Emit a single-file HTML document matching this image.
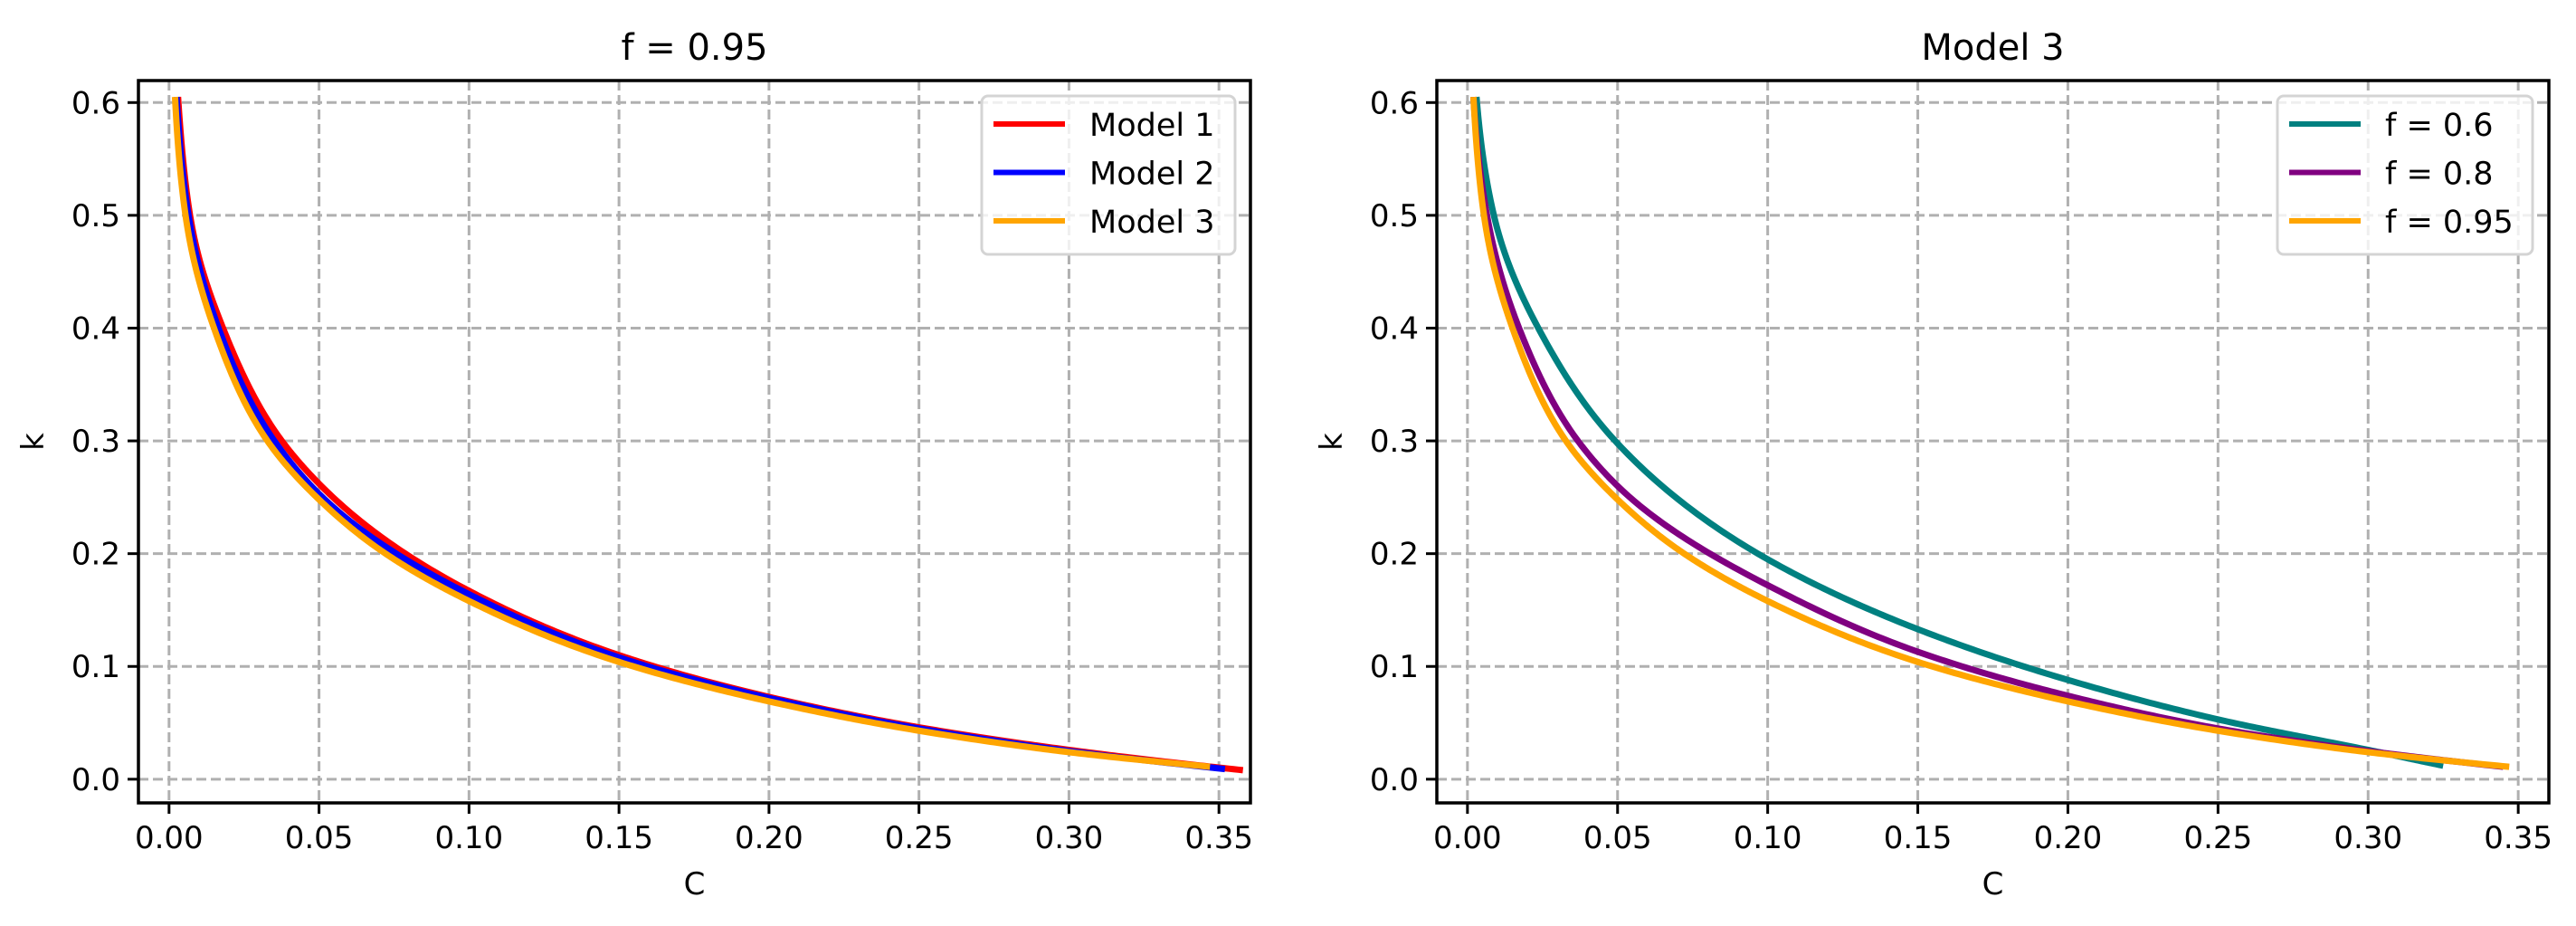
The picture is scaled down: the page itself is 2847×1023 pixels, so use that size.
<!DOCTYPE html>
<html><head><meta charset="utf-8">
<style>
html,body{margin:0;padding:0;background:#fff;}
svg{display:block;font-family:"DejaVu Sans","Liberation Sans",sans-serif;}
</style></head>
<body>
<svg id="fig" width="2847" height="1023" viewBox="0 0 2847 1023" xmlns="http://www.w3.org/2000/svg"></svg>
<script>
// ---- data ----
const xTicks = [0, 0.05, 0.10, 0.15, 0.20, 0.25, 0.30, 0.35];
const xTickLabels = ["0.00","0.05","0.10","0.15","0.20","0.25","0.30","0.35"];
const yTicks = [0, 0.1, 0.2, 0.3, 0.4, 0.5, 0.6];
const yTickLabels = ["0.0","0.1","0.2","0.3","0.4","0.5","0.6"];

const model1C = [0.003,0.007,0.018,0.0376,0.05,0.1,0.15,0.2,0.25,0.3,0.358];
const model1K = [0.605,0.5,0.4,0.3,0.262,0.167,0.11,0.073,0.046,0.026,0.008];
const model2C = [0.0025,0.0065,0.0165,0.0351,0.05,0.1,0.15,0.2,0.25,0.3,0.352];
const model2K = [0.605,0.5,0.4,0.3,0.253,0.164,0.108,0.072,0.045,0.025,0.009];
const model3C = [0.002,0.0055,0.015,0.0328,0.05,0.07,0.1,0.15,0.2,0.25,0.3,0.347];
const model3K = [0.605,0.5,0.4,0.3,0.248,0.204,0.158,0.104,0.069,0.043,0.024,0.011];

const f06C = [0.003,0.0088,0.0236,0.0492,0.1,0.15,0.2,0.25,0.3,0.325];
const f06K = [0.605,0.5,0.4,0.3,0.195,0.133,0.088,0.053,0.026,0.012];
const f08C = [0.002,0.0065,0.0172,0.0368,0.05,0.1,0.15,0.2,0.25,0.3,0.345];
const f08K = [0.605,0.5,0.4,0.3,0.26,0.172,0.113,0.074,0.045,0.025,0.011];
const f095C = model3C;
const f095K = model3K;

const NS = "http://www.w3.org/2000/svg";
const svg = document.getElementById("fig");
function mk(tag, attrs, parent){
  const e = document.createElementNS(NS, tag);
  for (const k in attrs) e.setAttribute(k, attrs[k]);
  (parent||svg).appendChild(e);
  return e;
}
// monotone cubic interpolation of k over ln(C), sampled densely for drawing
function monotoneSample(cs, ys){
  const xs = cs.map(c=>Math.log(c));
  const n = xs.length, d = [], m = [];
  for (let i=0;i<n-1;i++) d.push((ys[i+1]-ys[i])/(xs[i+1]-xs[i]));
  m[0]=d[0]; m[n-1]=d[n-2];
  for (let i=1;i<n-1;i++){
    if (d[i-1]*d[i]<=0) m[i]=0;
    else { const h0=xs[i]-xs[i-1], h1=xs[i+1]-xs[i];
      const w1=2*h1+h0, w2=h1+2*h0; m[i]=(w1+w2)/(w1/d[i-1]+w2/d[i]); }
  }
  const out=[];
  for (let i=0;i<n-1;i++){
    const h=xs[i+1]-xs[i];
    for (let s=0;s<40;s++){
      const t=s/40, t2=t*t, t3=t2*t;
      const y=(2*t3-3*t2+1)*ys[i]+(t3-2*t2+t)*h*m[i]+(-2*t3+3*t2)*ys[i+1]+(t3-t2)*h*m[i+1];
      out.push([Math.exp(xs[i]+t*h), y]);
    }
  }
  out.push([cs[n-1], ys[n-1]]);
  return out;
}

function panel(cfg){
  const g = mk("g", {});
  
  
  const L=cfg.left, R=cfg.right, T=89, B=887;
  const xmin=-0.0102, xmax=cfg.xmax, ymin=-0.021, ymax=0.6195;
  const sx = v => L + (v-xmin)/(xmax-xmin)*(R-L);
  const sy = v => B - (v-ymin)/(ymax-ymin)*(B-T);
  xTicks.forEach(t=>{
    const l = mk("line",{x1:sx(t),x2:sx(t),y1:T,y2:B,stroke:"#b0b0b0","stroke-width":3,"stroke-dasharray":"11,5"},g);
    
    
  });
  yTicks.forEach(t=>{
    const l = mk("line",{x1:L,x2:R,y1:sy(t),y2:sy(t),stroke:"#b0b0b0","stroke-width":3,"stroke-dasharray":"11,5"},g);
    
    
  });
  cfg.series.forEach(s=>{
    const pts = monotoneSample(s.c, s.k).map(p=>sx(p[0]).toFixed(2)+","+sy(p[1]).toFixed(2));
    const p = mk("polyline",{points:pts.join(" "),fill:"none",stroke:s.color,"stroke-width":7,"stroke-linejoin":"round"},g);
    
    
  });
  const fr = mk("rect",{x:L,y:T,width:R-L,height:B-T,fill:"none",stroke:"#000","stroke-width":3.5},g);
  
  
  xTicks.forEach((t,i)=>{
    const tk = mk("line",{x1:sx(t),x2:sx(t),y1:B,y2:B+12,stroke:"#000","stroke-width":3},g);
    
    
    const tx = mk("text",{x:sx(t),y:B+50,"font-size":34,"text-anchor":"middle",fill:"#000"},g);
    tx.textContent = xTickLabels[i];
    
    
  });
  yTicks.forEach((t,i)=>{
    const tk = mk("line",{x1:L-12,x2:L,y1:sy(t),y2:sy(t),stroke:"#000","stroke-width":3},g);
    
    
    const tx = mk("text",{x:L-20,y:sy(t)+12,"font-size":34,"text-anchor":"end",fill:"#000"},g);
    tx.textContent = yTickLabels[i];
    
    
  });
  const xl = mk("text",{x:(L+R)/2,y:988,"font-size":34,"text-anchor":"middle"},g);
  xl.textContent="C";
  
  
  const yl = mk("text",{x:0,y:0,"font-size":34,"text-anchor":"middle",transform:"translate("+(L-105)+","+((T+B)/2)+") rotate(-90)"},g);
  yl.textContent="k";
  
  
  const ti = mk("text",{x:(L+R)/2,y:66,"font-size":40,"text-anchor":"middle"},g);
  ti.textContent=cfg.title;
  
  
  const lg = mk("g",{},g);
  
  
  const lb = mk("rect",{x:cfg.legX,y:106,width:cfg.legW,height:175,rx:7,fill:"#fff","fill-opacity":0.8,stroke:"#d4d4d4","stroke-width":3},lg);
  
  
  cfg.series.forEach((s,i)=>{
    const yy = 137 + i*53.5;
    const ll = mk("line",{x1:cfg.legX+13,x2:cfg.legX+92,y1:yy,y2:yy,stroke:s.color,"stroke-width":6},lg);
    
    
    const lt = mk("text",{x:cfg.legX+119,y:yy+13,"font-size":35},lg);
    lt.textContent = s.label;
    
    
  });
}

panel({name:"left-chart", left:153, right:1382, xmax:0.3605, title:"f = 0.95", legX:1085, legW:280,
  series:[
    {id:"model-1-line", label:"Model 1", color:"#ff0000", c:model1C, k:model1K},
    {id:"model-2-line", label:"Model 2", color:"#0000ff", c:model2C, k:model2K},
    {id:"model-3-line", label:"Model 3", color:"#ffa500", c:model3C, k:model3K}
  ]});
panel({name:"right-chart", left:1588, right:2817, xmax:0.3602, title:"Model 3", legX:2517, legW:282,
  series:[
    {id:"f-0.6-line", label:"f = 0.6", color:"#008080", c:f06C, k:f06K},
    {id:"f-0.8-line", label:"f = 0.8", color:"#800080", c:f08C, k:f08K},
    {id:"f-0.95-line", label:"f = 0.95", color:"#ffa500", c:f095C, k:f095K}
  ]});
</script>
</body></html>
